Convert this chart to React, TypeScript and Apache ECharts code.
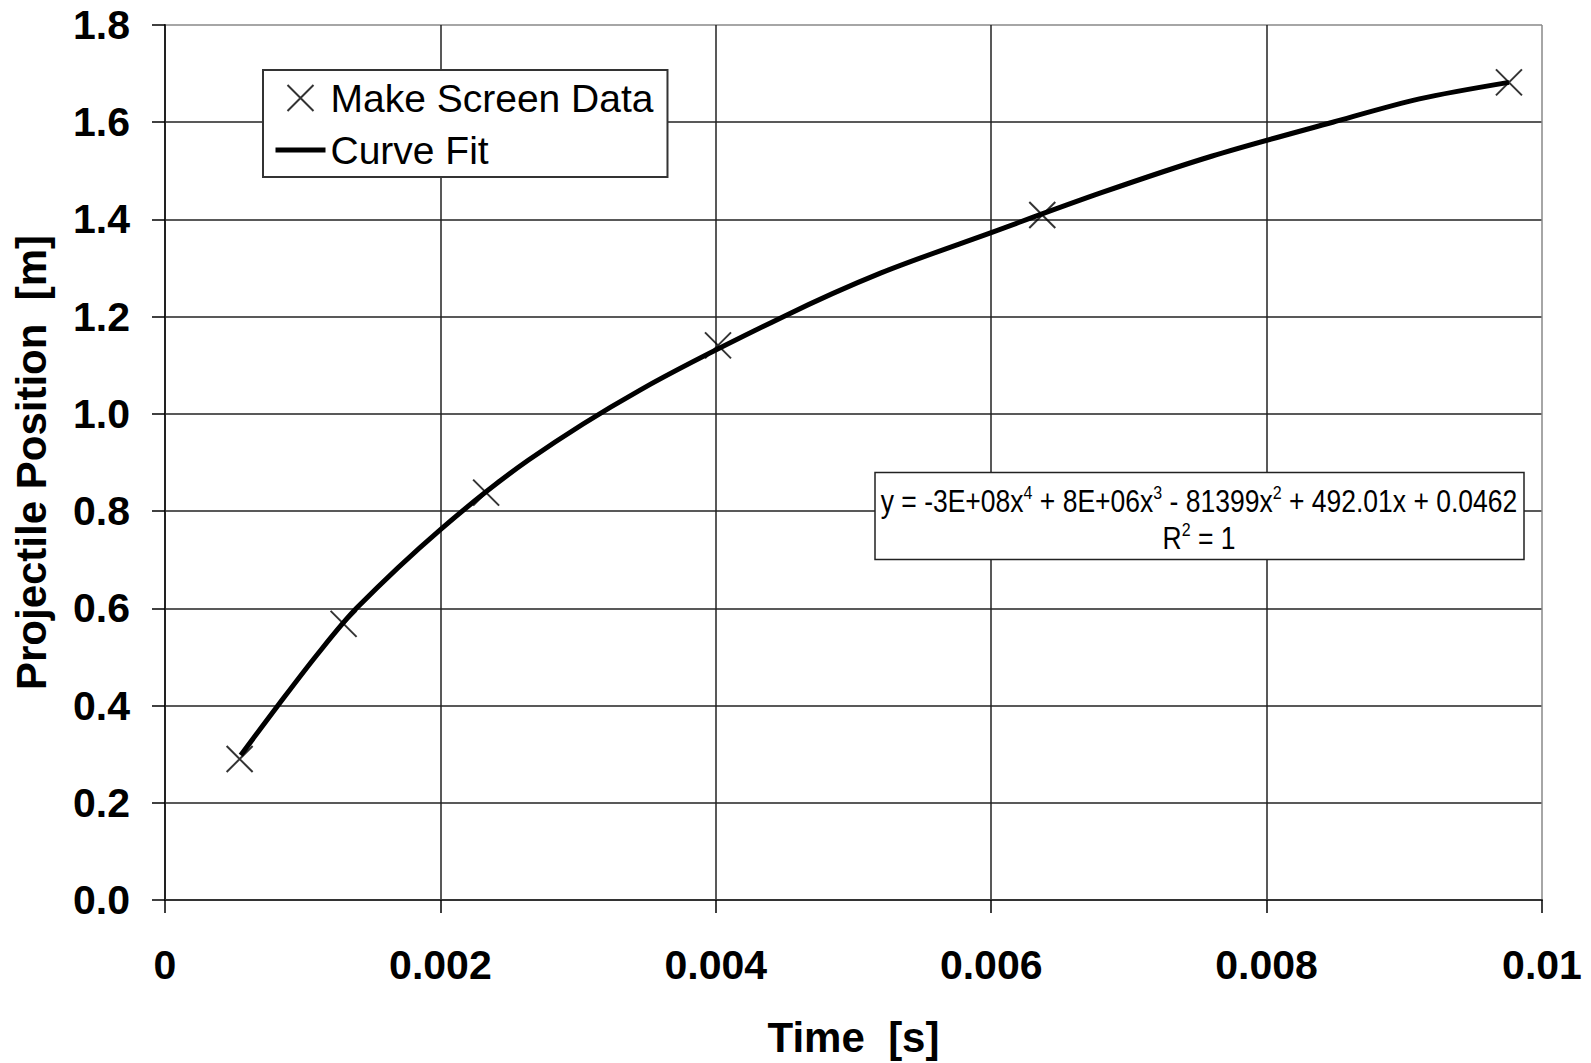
import React, { useEffect, useRef } from "react";
import * as echarts from "echarts";

// Measured data ("Make Screen Data")
const timeData: number[] = [0.000542, 0.001297, 0.002332, 0.004016, 0.006371, 0.00976];
const positionData: number[] = [0.29, 0.568, 0.838, 1.141, 1.409, 1.682];

// Curve fit trendline
const fitTime: number[] = [
  0.00055, 0.00082, 0.0011, 0.00139, 0.002, 0.00264, 0.00345, 0.00449, 0.0052, 0.006,
  0.0068, 0.0076, 0.00848, 0.00911, 0.00976,
];
const fitPosition: number[] = [
  0.298, 0.4, 0.503, 0.6, 0.762, 0.905, 1.049, 1.2, 1.29, 1.373,
  1.455, 1.53, 1.6, 1.648, 1.682,
];

const xTicks = { min: 0, max: 0.01, interval: 0.002 };
const yTicks = { min: 0, max: 1.8, interval: 0.2 };

const seriesNames = ["Make Screen Data", "Curve Fit"];
const xTitle = "Time  [s]";
const yTitle = "Projectile Position  [m]";
const equationLine1 =
  "{n|y = -3E+08x}{s|4}{n| + 8E+06x}{s|3}{n| - 81399x}{s|2}{n| + 492.01x + 0.0462}";
const equationLine2 = "{n|R}{s|2}{n| = 1}";

const FONT = "'Liberation Sans', Arial, sans-serif";
const X_PATH = "path://M0,0L10,10M10,0L0,10";

export default function App() {
  const ref = useRef<HTMLDivElement>(null);

  useEffect(() => {
    document.body.style.margin = "0";
    document.body.style.overflow = "hidden";
    if (!ref.current) return;
    const chart = echarts.init(ref.current, undefined, { renderer: "svg" });

    const ySplitColors = [] as string[];
    for (let i = 0; i <= 9; i++) ySplitColors.push(i === 9 ? "#888" : "#222");
    const xSplitColors = [] as string[];
    for (let i = 0; i <= 5; i++) xSplitColors.push(i === 5 ? "#888" : "#222");

    const richStyles = {
      n: { fontSize: 26.5, fontFamily: FONT, color: "#000", lineHeight: 30 },
      s: { fontSize: 16, fontFamily: FONT, color: "#000", lineHeight: 18, verticalAlign: "top" },
    };

    chart.setOption({
      animation: false,
      backgroundColor: "#fff",
      grid: { left: 165, top: 25, right: 49, bottom: 160, containLabel: false },
      xAxis: {
        type: "value",
        min: xTicks.min,
        max: xTicks.max,
        interval: xTicks.interval,
        name: xTitle,
        nameLocation: "middle",
        nameGap: 137,
        nameTextStyle: {
          fontFamily: FONT,
          fontWeight: "bold",
          fontSize: 42,
          color: "#000",
          verticalAlign: "middle",
        },
        axisLine: { show: true, lineStyle: { color: "#333", width: 2 } },
        axisTick: { show: true, length: 13, lineStyle: { color: "#000", width: 1.5 } },
        axisLabel: {
          margin: 44,
          fontFamily: FONT,
          fontWeight: "bold",
          fontSize: 41,
          color: "#000",
          formatter: (v: number) => String(+v.toFixed(3)),
        },
        splitLine: { show: true, lineStyle: { color: xSplitColors, width: 1.5 } },
      },
      yAxis: {
        type: "value",
        min: yTicks.min,
        max: yTicks.max,
        interval: yTicks.interval,
        name: yTitle,
        nameLocation: "middle",
        nameGap: 134,
        nameTextStyle: {
          fontFamily: FONT,
          fontWeight: "bold",
          fontSize: 42,
          color: "#000",
          verticalAlign: "middle",
        },
        axisLine: { show: true, lineStyle: { color: "#222", width: 2 } },
        axisTick: { show: true, length: 13, lineStyle: { color: "#000", width: 1.5 } },
        axisLabel: {
          margin: 35,
          fontFamily: FONT,
          fontWeight: "bold",
          fontSize: 41,
          color: "#000",
          formatter: (v: number) => v.toFixed(1),
        },
        splitLine: { show: true, lineStyle: { color: ySplitColors, width: 1.5 } },
      },
      legend: {
        orient: "vertical",
        left: 263,
        top: 70,
        padding: [8, 14, 7, 10],
        itemWidth: 50,
        itemHeight: 26,
        itemGap: 12,
        backgroundColor: "#fff",
        borderColor: "#333",
        borderWidth: 2,
        textStyle: { fontFamily: FONT, fontSize: 39, color: "#000", lineHeight: 40 },
        data: [
          {
            name: seriesNames[0],
            icon: X_PATH,
            itemStyle: { color: "rgba(0,0,0,0)", borderColor: "#000", borderWidth: 2 },
          },
          {
            name: seriesNames[1],
            itemStyle: {
              color: "rgba(0,0,0,0)",
              borderColor: "rgba(0,0,0,0)",
              borderWidth: 0,
            },
            lineStyle: { width: 5, color: "#000" },
          },
        ],
        selectedMode: false,
      },
      series: [
        {
          name: seriesNames[1],
          type: "line",
          data: fitTime.map((t, i) => [t, fitPosition[i]]),
          showSymbol: false,
          symbol: "none",
          smooth: 0.3,
          lineStyle: { color: "#000", width: 5 },
          itemStyle: { color: "#000" },
          z: 3,
        },
        {
          name: seriesNames[0],
          type: "scatter",
          data: timeData.map((t, i) => [t, positionData[i]]),
          symbol: X_PATH,
          symbolSize: 26,
          itemStyle: { color: "rgba(0,0,0,0)", borderColor: "#000", borderWidth: 2 },
          z: 4,
        },
      ],
      graphic: [
        {
          type: "rect",
          shape: { x: 875, y: 472.5, width: 649, height: 87 },
          style: { fill: "#fff", stroke: "#222", lineWidth: 1.5 },
          z: 10,
        },
        {
          type: "group",
          x: 1199,
          y: 501,
          scaleY: 1.15,
          z: 11,
          children: [
            {
              type: "text",
              x: 0,
              y: 0,
              z: 11,
              style: {
                text: equationLine1,
                rich: richStyles,
                align: "center",
                verticalAlign: "middle",
              },
            },
          ],
        },
        {
          type: "group",
          x: 1199,
          y: 538,
          scaleY: 1.15,
          z: 11,
          children: [
            {
              type: "text",
              x: 0,
              y: 0,
              z: 11,
              style: {
                text: equationLine2,
                rich: richStyles,
                align: "center",
                verticalAlign: "middle",
              },
            },
          ],
        },
      ],
    });

    return () => {
      chart.dispose();
    };
  }, []);

  return <div ref={ref} style={{ width: 1591, height: 1063 }} />;
}
